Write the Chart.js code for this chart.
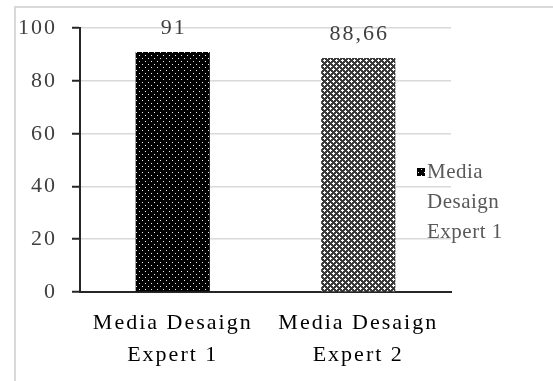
<!DOCTYPE html>
<html>
<head>
<meta charset="utf-8">
<script src="https://cdn.jsdelivr.net/npm/chart.js@4/dist/chart.umd.min.js"></script>
<style>
  html, body { margin: 0; padding: 0; background: #fff; }
  #frame {
    position: absolute; left: 14px; top: 6px; width: 560px; height: 400px;
    border-left: 2px solid #d9d9d9; border-top: 2px solid #d9d9d9;
  }
  #wrap { position: absolute; left: 0; top: 0; width: 553px; height: 381px; }
</style>
</head>
<body>
<div id="frame"></div>
<div id="wrap"><canvas id="scoreCanvas" width="553" height="381"></canvas></div>
<script>
const categories = [['Media Desaign', 'Expert 1'], ['Media Desaign', 'Expert 2']];
const scores = [91, 88.66];
const seriesName = 'Media Desaign Expert 1';
const yTicks = [0, 20, 40, 60, 80, 100];

// dotted fill: black with small white dots
function dotPattern() {
  const c = document.createElement('canvas');
  c.width = 6; c.height = 6;
  const g = c.getContext('2d');
  g.fillStyle = '#000';
  g.fillRect(0, 0, 6, 6);
  g.fillStyle = '#f0f0f0';
  g.fillRect(1, 1, 1, 1);
  g.fillRect(4, 4, 1, 1);
  return g.createPattern(c, 'repeat');
}

// lattice fill: dark grid with white crosses
function latticePattern() {
  const c = document.createElement('canvas');
  c.width = 6; c.height = 6;
  const g = c.getContext('2d');
  g.fillStyle = '#3a3a3a';
  g.fillRect(0, 0, 6, 6);
  g.fillStyle = '#fff';
  [[3, 2], [2, 3], [3, 3], [4, 3], [3, 4], [0, 5], [5, 0], [0, 0], [0, 1], [1, 0]].forEach(p => g.fillRect(p[0], p[1], 1, 1));
  return g.createPattern(c, 'repeat');
}

const serif = 'Liberation Serif';

// wide letter spacing for axis text (reset whenever the canvas is resized)
const spacing = {
  id: 'spacing',
  beforeLayout(chart) { chart.ctx.letterSpacing = '2px'; },
  beforeDraw(chart) { chart.ctx.letterSpacing = '2px'; }
};

const valueLabels = {
  id: 'valueLabels',
  afterDatasetsDraw(chart) {
    const ctx = chart.ctx;
    const meta = chart.getDatasetMeta(0);
    ctx.save();
    ctx.font = '22px "' + serif + '"';
    ctx.fillStyle = '#404040';
    ctx.textAlign = 'center';
    ctx.textBaseline = 'middle';
    meta.data.forEach((bar, i) => {
      const v = chart.data.datasets[0].data[i];
      ctx.fillText(String(v).replace('.', ','), bar.x + 1, bar.y - 24);
    });
    ctx.restore();
  }
};

const sideLegend = {
  id: 'sideLegend',
  afterDraw(chart) {
    const ctx = chart.ctx;
    const ds = chart.data.datasets[0];
    ctx.save();
    ctx.letterSpacing = '0.5px';
    ctx.fillStyle = ds.backgroundColor[0];
    ctx.fillRect(417, 168, 8, 8);
    ctx.font = '21px "' + serif + '"';
    ctx.fillStyle = '#595959';
    ctx.textAlign = 'left';
    ctx.textBaseline = 'middle';
    ds.label.split(' ').reduce((lines, w) => {
      if (w === '1' || w === '2') lines[lines.length - 1] += ' ' + w; else lines.push(w);
      return lines;
    }, []).forEach((line, i) => ctx.fillText(line, 427, 172 + i * 30));
    ctx.restore();
  }
};

new Chart(document.getElementById('scoreCanvas'), {
  type: 'bar',
  data: {
    labels: categories,
    datasets: [{
      label: seriesName,
      data: scores,
      backgroundColor: [dotPattern(), latticePattern()],
      borderWidth: 0,
      categoryPercentage: 1,
      barPercentage: 0.4
    }]
  },
  options: {
    responsive: false,
    animation: false,
    layout: { padding: { top: 22, right: 102, left: 0, bottom: 0 } },
    scales: {
      y: {
        min: 0,
        max: 100,
        afterFit(scale) { scale.width = 80; },
        afterBuildTicks(scale) { scale.ticks = yTicks.map(v => ({ value: v })); },
        ticks: {
          color: '#404040',
          padding: 15,
          font: { family: serif, size: 22 }
        },
        grid: {
          color: '#d9d9d9',
          lineWidth: 1.5,
          tickColor: '#262626',
          tickLength: 8,
          tickWidth: 2
        },
        border: { color: '#262626', width: 2 }
      },
      x: {
        afterFit(scale) { scale.height = 89; },
        ticks: {
          color: '#000',
          padding: 16,
          font: { family: serif, size: 22, lineHeight: 1.42 }
        },
        grid: { display: false, drawTicks: false },
        border: { color: '#262626', width: 2 }
      }
    },
    plugins: {
      legend: { display: false },
      tooltip: { enabled: false }
    }
  },
  plugins: [spacing, valueLabels, sideLegend]
});
</script>
</body>
</html>
